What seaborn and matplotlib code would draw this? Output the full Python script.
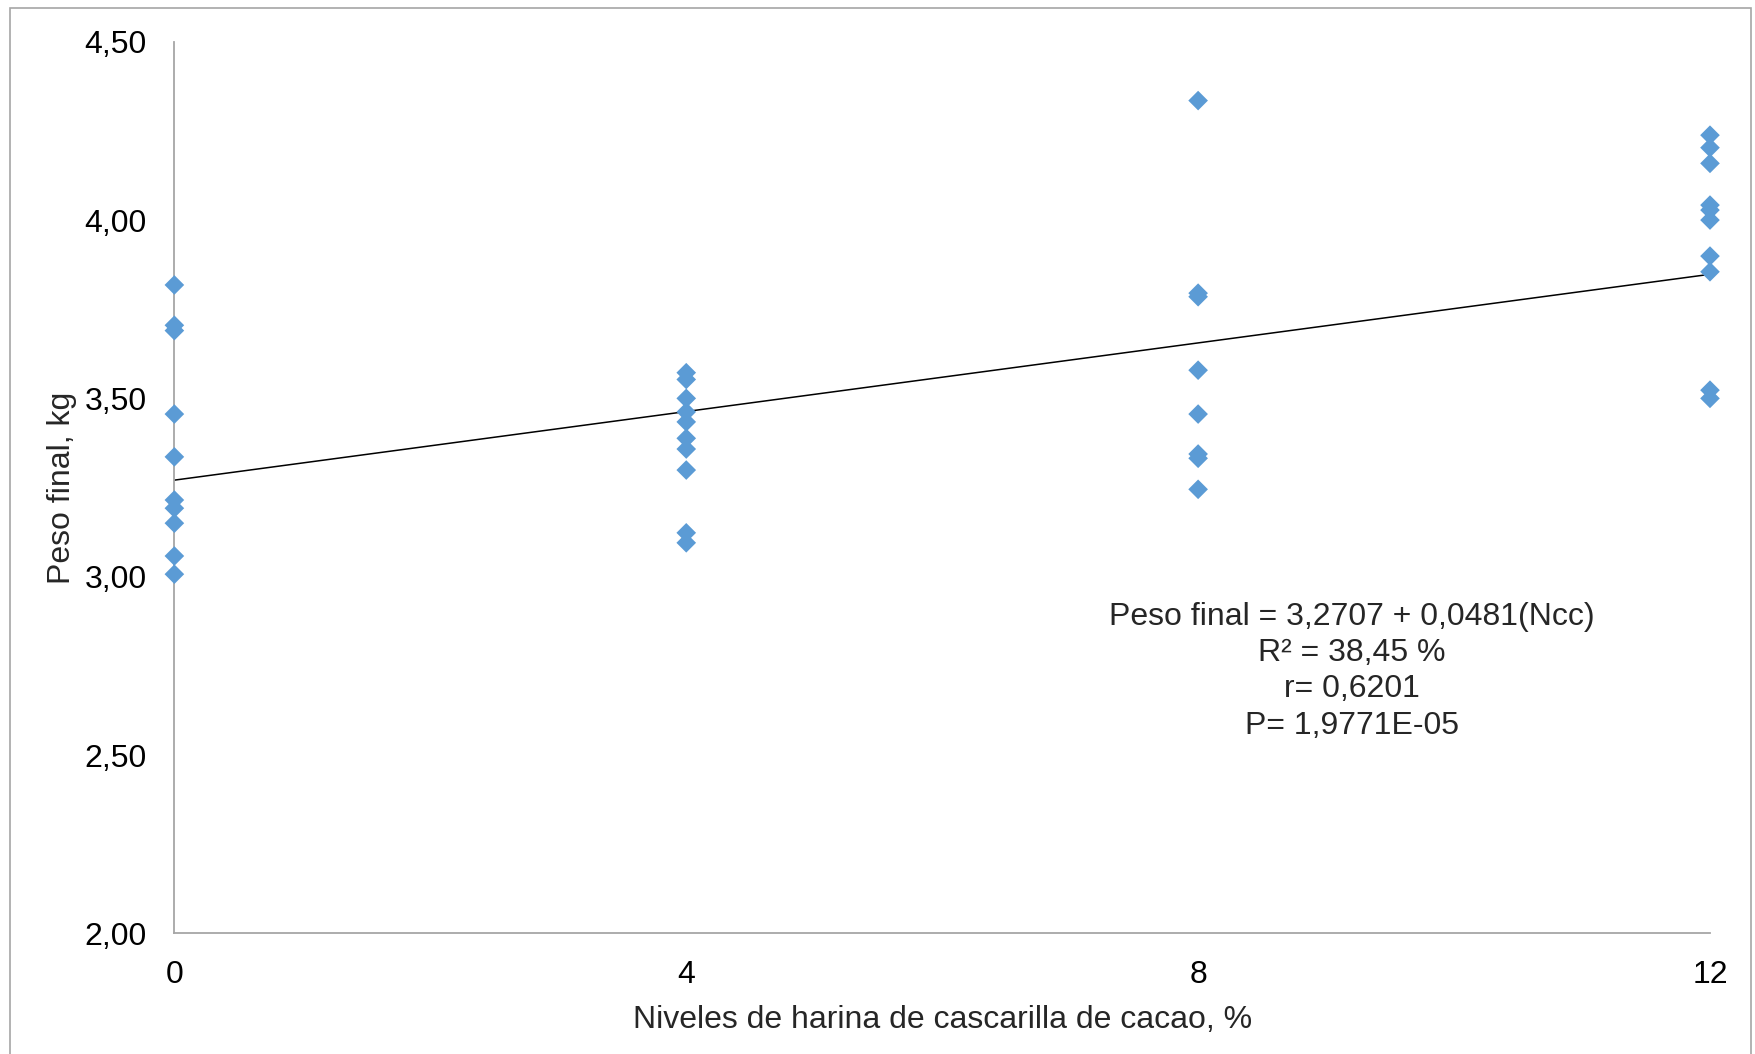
import numpy as np
import pandas as pd
import matplotlib
matplotlib.use('Agg')
import matplotlib.pyplot as plt
import seaborn as sns

# niveles de harina de cascarilla de cacao (%) y peso final (kg)
niveles = [0] * 10 + [4] * 10 + [8] * 8 + [12] * 10
peso_0 = [3.818, 3.705, 3.690, 3.456, 3.336, 3.215, 3.192, 3.150, 3.058, 3.007]
peso_4 = [3.572, 3.553, 3.500, 3.462, 3.434, 3.388, 3.358, 3.299, 3.123, 3.095]
peso_8 = [4.335, 3.795, 3.785, 3.579, 3.456, 3.344, 3.332, 3.245]
peso_12 = [4.238, 4.203, 4.159, 4.042, 4.028, 4.000, 3.899, 3.855, 3.523, 3.500]

intercepto = 3.2707
pendiente = 0.0481

x_ticks = [0, 4, 8, 12]
y_ticks = [2.0, 2.5, 3.0, 3.5, 4.0, 4.5]
y_labels = ['2,00', '2,50', '3,00', '3,50', '4,00', '4,50']

ecuacion = 'Peso final = 3,2707 + 0,0481(Ncc)\nR² = 38,45 %\nr= 0,6201\nP= 1,9771E-05'

df = pd.DataFrame({'nivel': niveles, 'peso': peso_0 + peso_4 + peso_8 + peso_12})
x_linea = np.array([0, 12])
df_linea = pd.DataFrame({'nivel': x_linea, 'peso': intercepto + pendiente * x_linea})

sns.set_style('white')
plt.rcParams['font.family'] = ['Liberation Sans', 'DejaVu Sans']

fig = plt.figure(figsize=(17.56, 10.54), dpi=100)
ax = fig.add_axes([0.0993, 0.1145, 0.8745, 0.8459])

# borde exterior del grafico
fig.patches.append(plt.Rectangle((10 / 1756, -0.05), 1741 / 1756, 1.05 - 8 / 1054,
                                 transform=fig.transFigure, fill=False,
                                 edgecolor='#A6A6A6', linewidth=1.2))

sns.lineplot(data=df_linea, x='nivel', y='peso', color='black', linewidth=1.1, ax=ax)
sns.scatterplot(data=df, x='nivel', y='peso', marker='D', s=100, color='#5B9BD5',
                edgecolor='none', linewidth=0, ax=ax, zorder=3, clip_on=False)

ax.set_xlim(0, 12)
ax.set_ylim(2.0, 4.5)
ax.set_xticks(x_ticks)
ax.set_xticklabels([str(t) for t in x_ticks])
ax.set_yticks(y_ticks)
ax.set_yticklabels(y_labels)
ax.tick_params(axis='both', length=0, labelsize=23, colors='black')
ax.tick_params(axis='x', pad=19)
ax.tick_params(axis='y', pad=20)

for lado in ['top', 'right']:
    ax.spines[lado].set_visible(False)
for lado in ['left', 'bottom']:
    ax.spines[lado].set_color('#A6A6A6')
    ax.spines[lado].set_linewidth(1.3)

ax.set_xlabel('Niveles de harina de cascarilla de cacao, %', fontsize=23, labelpad=11)
ax.set_ylabel('Peso final, kg', fontsize=23, labelpad=5)

ax.text(9.2, 2.735, ecuacion, ha='center', va='center', multialignment='center',
        fontsize=23, linespacing=1.27)

fig.savefig('out.png', dpi=100)
